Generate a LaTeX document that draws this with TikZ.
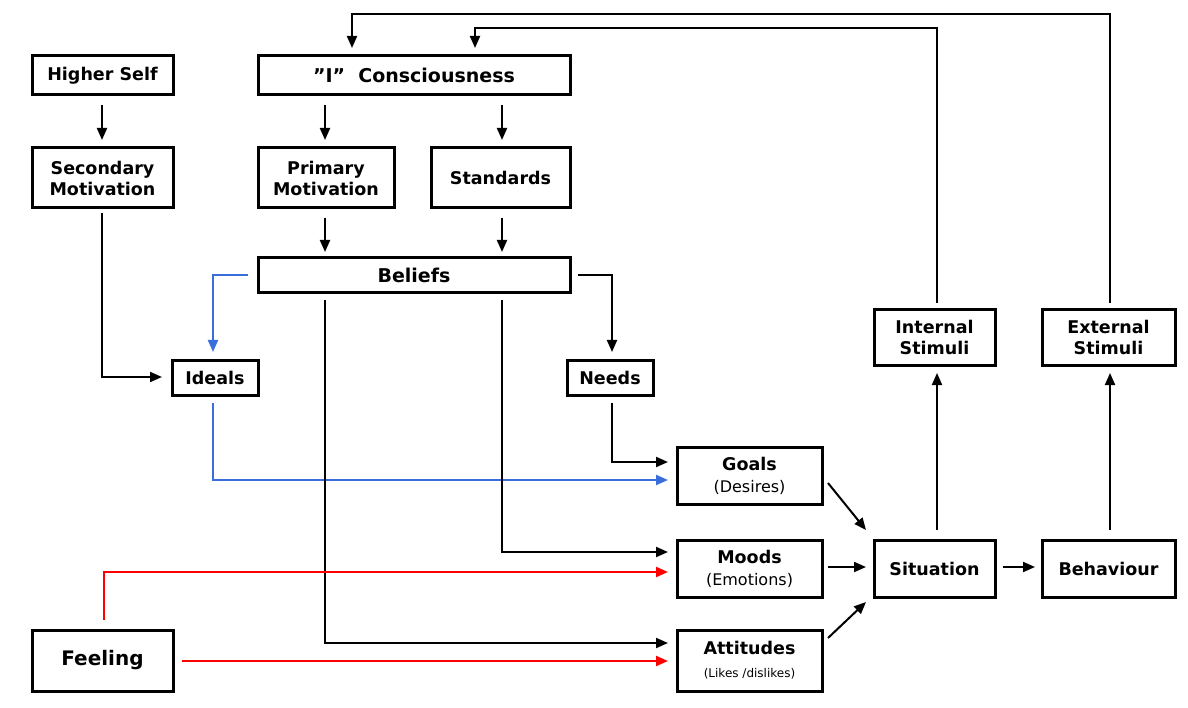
\documentclass[tikz,border=0pt]{standalone}
\usepackage{fontspec}
\setmainfont{DejaVu Sans}
\usetikzlibrary{arrows.meta,calc}
\newcommand{\subf}{\fontsize{16}{19}\selectfont\mdseries}
\begin{document}
\begin{tikzpicture}[x=1pt,y=-1pt,
 bx/.style={draw,line width=3pt,inner sep=0pt,align=center,font=\fontsize{17.5}{21}\selectfont\bfseries},
 arr/.style={line width=2pt,-{Triangle[length=12pt,width=10pt]}}]
\useasboundingbox (0,0) rectangle (1188,708);
\newcommand{\bb}[6]{\node[bx,minimum width=#3-#2,minimum height=#5-#4] (#1) at ({(#2+#3)/2},{(#4+#5)/2}) {#6};}
\bb{hs}{32}{173}{56}{95}{Higher Self}
\bb{sm}{32}{173}{148}{208}{Secondary\\Motivation}
\bb{ic}{258}{570}{56}{95}{\fontsize{19}{22}\selectfont \symbol{34}I\symbol{34}\ \ Consciousness}
\bb{pm}{258}{394}{148}{208}{Primary\\Motivation}
\bb{st}{431}{570}{148}{208}{Standards}
\bb{be}{258}{570}{258}{293}{\fontsize{19}{22}\selectfont Beliefs}
\bb{id}{172}{258}{360}{395}{Ideals}
\bb{ne}{567}{653}{360}{395}{Needs}
\bb{go}{677}{822}{447}{504}{Goals\\[1pt]{\subf(Desires)}}
\bb{mo}{677}{822}{540}{597}{Moods\\[1pt]{\subf(Emotions)}}
\bb{at}{677}{822}{630}{691}{Attitudes\\[2pt]{\fontsize{12}{14}\selectfont\mdseries(Likes /dislikes)}}
\bb{fe}{32}{173}{630}{691}{\fontsize{20}{24}\selectfont Feeling}
\bb{si}{874}{995}{540}{597}{Situation}
\bb{bh}{1042}{1175}{540}{597}{Behaviour}
\bb{is}{874}{995}{310}{365}{Internal\\Stimuli}
\bb{es}{1042}{1175}{310}{365}{External\\Stimuli}
\definecolor{bl}{RGB}{58,110,220}
\draw[arr] (102,105) -- (102,140);
\draw[arr] (325,105) -- (325,140);
\draw[arr] (502,105) -- (502,140);
\draw[arr] (325,218) -- (325,252);
\draw[arr] (502,218) -- (502,252);
\draw[arr] (102,213) |- (162,377);
\draw[arr,color=bl] (248,275) -| (213,352);
\draw[arr] (578,275) -| (612,352);
\draw[arr,color=bl] (213,403) |- (668,480);
\draw[arr] (612,403) |- (668,462);
\draw[arr] (502,300) |- (668,552);
\draw[arr] (325,300) |- (668,643);
\draw[arr,color=red] (104,620) |- (668,572);
\draw[arr,color=red] (182,661) -- (668,661);
\draw[arr] (828,483) -- (866,530);
\draw[arr] (828,567) -- (866,567);
\draw[arr] (828,638) -- (866,602);
\draw[arr] (1003,567) -- (1035,567);
\draw[arr] (937,530) -- (937,373);
\draw[arr] (1110,530) -- (1110,373);
\draw[arr] (937,303) -- (937,28) -- (475,28) -- (475,48);
\draw[arr] (1110,303) -- (1110,14) -- (352,14) -- (352,48);
\end{tikzpicture}
\end{document}
